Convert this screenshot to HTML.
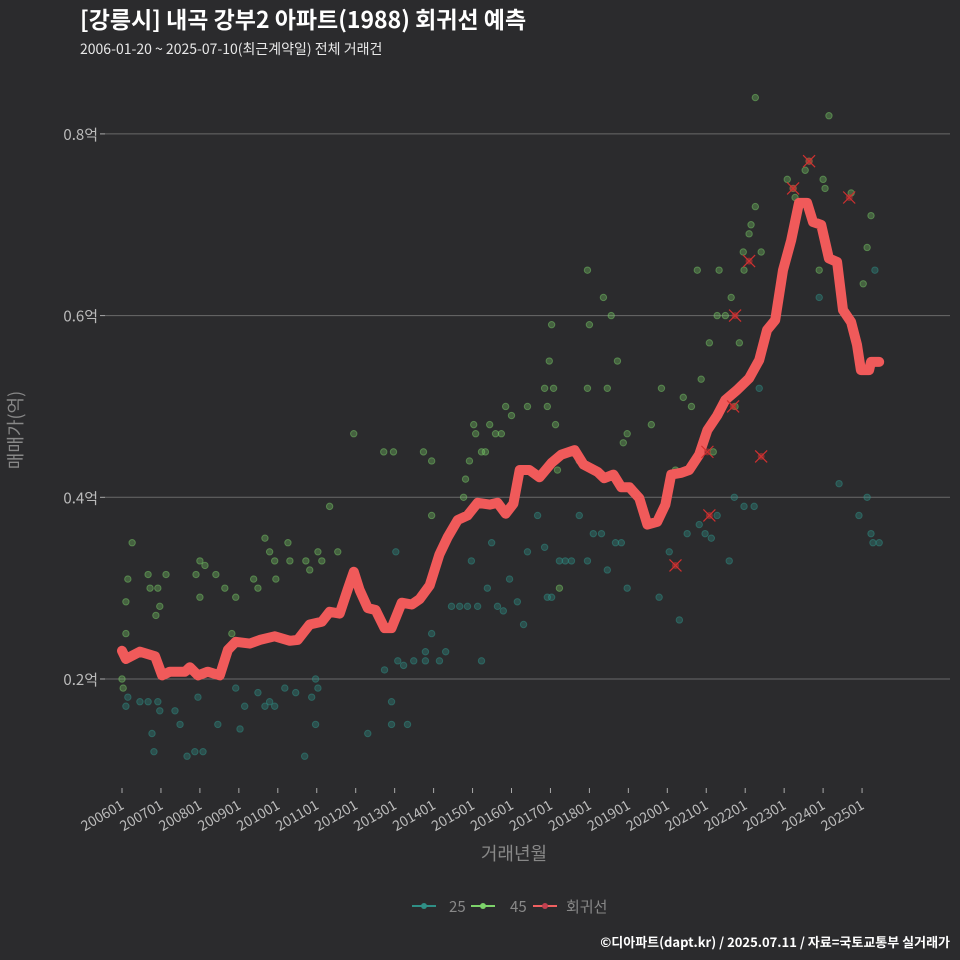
<!DOCTYPE html>
<html><head><meta charset="utf-8"><style>
body{margin:0;background:#2b2b2d;}
svg{display:block;font-family:"Noto Sans CJK KR","Liberation Sans",sans-serif;}
</style></head><body>
<svg id="chart" width="960" height="960" viewBox="0 0 960 960">
<rect width="960" height="960" fill="#2b2b2d"/>
<text x="80" y="28" fill="#ffffff" font-size="23" font-weight="bold">[강릉시] 내곡 강부2 아파트(1988) 회귀선 예측</text>
<text x="80" y="54" fill="#e8e8e8" font-size="14">2006-01-20 ~ 2025-07-10(최근계약일) 전체 거래건</text>
<g id="grid"></g>
<g id="yaxis"></g>
<g id="xaxis"></g>
<g id="pts"></g>
<g id="line"></g>
<g id="cross"></g>
<text x="22" y="430" fill="#888" font-size="18" transform="rotate(-90 22 430)" text-anchor="middle">매매가(억)</text>
<text x="514" y="860" fill="#888" font-size="18" text-anchor="middle">거래년월</text>
<g>
<g><line x1="412" y1="906" x2="436" y2="906" stroke="#2f8f86" stroke-width="2"/><circle cx="424" cy="906" r="3" fill="#2f8f86"/><text x="449" y="912" fill="#888" font-size="15">25</text></g>
<g><line x1="471" y1="906" x2="495" y2="906" stroke="#7dd36a" stroke-width="2"/><circle cx="483" cy="906" r="3" fill="#7dd36a"/><text x="510" y="912" fill="#888" font-size="15">45</text></g>
<g><line x1="533" y1="906" x2="557" y2="906" stroke="#f06060" stroke-width="2"/><circle cx="545" cy="906" r="3" fill="#c04050"/><text x="566" y="912" fill="#888" font-size="15">회귀선</text></g>
</g>
<text x="950" y="947" fill="#ffffff" font-size="13" font-weight="bold" text-anchor="end">©디아파트(dapt.kr) / 2025.07.11 / 자료=국토교통부 실거래가</text>
</svg>
<script>
const yTicks=[0.2,0.4,0.6,0.8];
const yTickLabels=["0.2억","0.4억","0.6억","0.8억"];
const xTicks=[2006,2007,2008,2009,2010,2011,2012,2013,2014,2015,2016,2017,2018,2019,2020,2021,2022,2023,2024,2025];
const xTickLabels=["200601","200701","200801","200901","201001","201101","201201","201301","201401","201501","201601","201701","201801","201901","202001","202101","202201","202301","202401","202501"];
const lineDates=[2006.0,2006.1,2006.46,2006.85,2007.03,2007.23,2007.62,2007.74,2007.95,2008.2,2008.51,2008.72,2008.92,2009.28,2009.54,2009.92,2010.31,2010.51,2010.82,2011.13,2011.33,2011.59,2011.79,2011.95,2012.1,2012.31,2012.51,2012.74,2012.92,2013.18,2013.44,2013.64,2013.9,2014.15,2014.36,2014.62,2014.87,2015.13,2015.44,2015.64,2015.85,2016.05,2016.21,2016.46,2016.72,2017.03,2017.28,2017.62,2017.85,2018.21,2018.38,2018.62,2018.82,2019.03,2019.28,2019.49,2019.74,2019.95,2020.1,2020.36,2020.56,2020.82,2021.03,2021.28,2021.49,2021.79,2022.1,2022.36,2022.56,2022.77,2022.97,2023.18,2023.38,2023.59,2023.74,2023.95,2024.15,2024.36,2024.51,2024.72,2024.87,2024.97,2025.18,2025.23,2025.44];
const lineValues=[.231,.222,.23,.225,.204,.208,.208,.213,.204,.208,.204,.232,.241,.239,.243,.247,.242,.243,.26,.263,.274,.272,.298,.318,.298,.278,.276,.256,.256,.284,.282,.288,.303,.337,.356,.375,.38,.394,.392,.394,.382,.393,.43,.43,.422,.438,.447,.452,.436,.428,.421,.425,.411,.411,.399,.37,.373,.392,.425,.427,.43,.447,.474,.49,.507,.518,.531,.551,.584,.595,.65,.683,.724,.724,.703,.7,.663,.659,.606,.593,.568,.54,.54,.549,.549];
const s25Dates=[2006.1,2006.15,2006.46,2006.67,2006.77,2006.82,2006.92,2006.97,2007.36,2007.49,2007.67,2007.87,2007.95,2008.08,2008.46,2008.92,2009.03,2009.15,2009.49,2009.67,2009.79,2009.92,2010.18,2010.46,2010.69,2010.87,2010.97,2011.03,2010.97,2012.31,2012.74,2012.92,2012.92,2013.03,2013.08,2013.23,2013.33,2013.49,2013.79,2013.79,2013.95,2014.15,2014.31,2014.46,2014.67,2014.87,2014.97,2015.13,2015.23,2015.38,2015.49,2015.64,2015.79,2015.95,2016.15,2016.31,2016.41,2016.67,2016.85,2016.92,2017.03,2017.23,2017.38,2017.54,2017.74,2017.95,2018.1,2018.31,2018.46,2018.67,2018.82,2018.97,2019.79,2020.05,2020.31,2020.51,2020.82,2020.97,2021.13,2021.28,2021.59,2021.72,2021.97,2022.23,2022.36,2022.51,2023.9,2024.41,2024.92,2025.13,2025.23,2025.28,2025.44,2025.33];
const s25Values=[.17,.18,.175,.175,.14,.12,.175,.165,.165,.15,.115,.12,.18,.12,.15,.19,.145,.17,.185,.17,.175,.17,.19,.185,.115,.18,.2,.19,.15,.14,.21,.175,.15,.34,.22,.215,.15,.22,.23,.22,.25,.22,.23,.28,.28,.28,.33,.28,.22,.3,.35,.28,.275,.31,.285,.26,.34,.38,.345,.29,.29,.33,.33,.33,.38,.33,.36,.36,.32,.35,.35,.3,.29,.34,.265,.36,.37,.36,.355,.38,.33,.4,.39,.39,.52,.58,.62,.415,.38,.4,.36,.35,.35,.65];
const s45Dates=[2006.0,2006.03,2006.1,2006.1,2006.15,2006.26,2006.67,2006.72,2006.87,2006.92,2006.97,2007.13,2007.9,2008.0,2008.0,2008.13,2008.41,2008.64,2008.82,2008.92,2009.38,2009.49,2009.67,2009.79,2009.92,2009.95,2010.26,2010.31,2010.72,2010.82,2011.03,2011.13,2011.33,2011.54,2011.95,2012.72,2012.97,2013.74,2013.95,2013.95,2014.77,2014.82,2014.92,2015.03,2015.08,2015.23,2015.33,2015.44,2015.59,2015.74,2015.85,2016.0,2016.41,2016.85,2016.92,2016.97,2017.03,2017.08,2017.13,2017.18,2017.23,2017.74,2017.95,2017.95,2018.0,2018.36,2018.46,2018.56,2018.72,2018.87,2018.97,2019.59,2019.85,2020.21,2020.41,2020.62,2020.77,2020.87,2021.08,2021.18,2021.28,2021.33,2021.49,2021.64,2021.74,2021.85,2021.95,2021.97,2022.1,2022.15,2022.26,2022.26,2022.41,2023.08,2023.23,2023.28,2023.54,2023.64,2023.9,2024.0,2024.05,2024.15,2024.72,2025.03,2025.13,2025.23];
const s45Values=[.2,.19,.285,.25,.31,.35,.315,.3,.27,.3,.28,.315,.315,.33,.29,.325,.315,.3,.25,.29,.31,.3,.355,.34,.33,.31,.35,.33,.33,.32,.34,.33,.39,.34,.47,.45,.45,.45,.44,.38,.4,.42,.44,.48,.47,.45,.45,.48,.47,.47,.5,.49,.5,.52,.5,.55,.59,.52,.48,.43,.3,.44,.52,.65,.59,.62,.52,.6,.55,.46,.47,.48,.52,.43,.51,.5,.65,.53,.57,.45,.6,.65,.6,.62,.5,.57,.67,.65,.69,.7,.72,.84,.67,.75,.74,.73,.76,.77,.65,.75,.74,.82,.735,.635,.675,.71];
const crossDates=[2020.21,2021.08,2021.74,2022.1,2022.41,2023.23,2023.64,2024.67,2021.03,2021.69];
const crossValues=[.325,.38,.6,.66,.445,.74,.77,.73,.45,.5];

const X=d=>122+(d-2006)*38.95;
const Y=v=>679-(v-0.2)*908.5;
const NS="http://www.w3.org/2000/svg";
function mk(tag,attrs,parent){const e=document.createElementNS(NS,tag);for(const k in attrs)e.setAttribute(k,attrs[k]);parent.appendChild(e);return e;}
const grid=document.getElementById('grid'),ya=document.getElementById('yaxis'),xa=document.getElementById('xaxis');
yTicks.forEach((t,i)=>{
  const g=mk('line',{x1:105,x2:950,y1:Y(t),y2:Y(t),stroke:'#6a6a6a','stroke-width':1},grid);
  
  
  mk('line',{x1:100,x2:105,y1:Y(t),y2:Y(t),stroke:'#aaa'},ya);
  const tx=mk('text',{x:98,y:Y(t)+6,fill:'#bbb','font-size':15,'text-anchor':'end'},ya);
  tx.textContent=yTickLabels[i];
  
  
});
xTicks.forEach((t,i)=>{
  const x=X(t);
  mk('line',{x1:x,x2:x,y1:788,y2:793,stroke:'#aaa'},xa);
  const tx=mk('text',{x:x+3,y:808,fill:'#bbb','font-size':14,'text-anchor':'end',transform:`rotate(-30 ${x+3} 808)`},xa);
  tx.textContent=xTickLabels[i];
  
  
});
const pts=document.getElementById('pts');
s25Dates.forEach((d,i)=>{
  const c=mk('circle',{cx:X(d),cy:Y(s25Values[i]),r:3.2,fill:'#2f8f86','fill-opacity':0.35,stroke:'#2f8f86','stroke-opacity':0.5},pts);
  
  
});
s45Dates.forEach((d,i)=>{
  const c=mk('circle',{cx:X(d),cy:Y(s45Values[i]),r:3.2,fill:'#7dd36a','fill-opacity':0.32,stroke:'#7dd36a','stroke-opacity':0.45},pts);
  
  
});
const line=document.getElementById('line');
const p=mk('path',{d:lineDates.map((d,i)=>(i?'L':'M')+X(d).toFixed(1)+','+Y(lineValues[i]).toFixed(1)).join(''),fill:'none',stroke:'#f05a5a','stroke-width':10,'stroke-linejoin':'round','stroke-linecap':'round'},line);


const cross=document.getElementById('cross');
crossDates.forEach((d,i)=>{
  const x=X(d),y=Y(crossValues[i]);
  const g=mk('g',{},cross);
  
  
  mk('circle',{cx:x,cy:y,r:3.5,fill:'#c03030','fill-opacity':0.6},g);
  mk('path',{d:`M${x-6},${y-6}L${x+6},${y+6}M${x-6},${y+6}L${x+6},${y-6}`,stroke:'#d03030','stroke-width':1.2},g);
});
</script>
</body></html>
